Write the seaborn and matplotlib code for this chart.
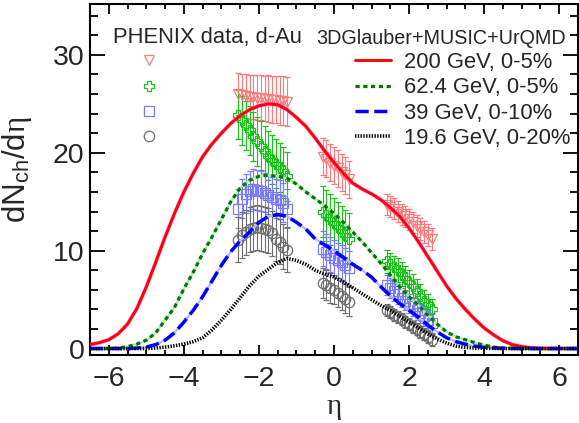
import numpy as np
import pandas as pd
import seaborn as sns
import matplotlib.pyplot as plt
from matplotlib.lines import Line2D
from matplotlib.ticker import MultipleLocator

# ---------------- data ----------------
eta_model = [-6.5, -6.25, -6.0, -5.75, -5.5, -5.25, -5.0, -4.75, -4.5, -4.25, -4.0, -3.75,
             -3.5, -3.25, -3.0, -2.75, -2.5, -2.25, -2.0, -1.75, -1.5, -1.25, -1.0, -0.75,
             -0.5, -0.25, 0.0, 0.25, 0.5, 0.75, 1.0, 1.25, 1.5, 1.75, 2.0, 2.25, 2.5, 2.75,
             3.0, 3.25, 3.5, 3.75, 4.0, 4.25, 4.5, 4.75, 5.0, 5.25, 5.5, 5.75, 6.0, 6.25, 6.5]
model_200 = [0.4, 0.6, 0.9, 1.5, 2.5, 4.1, 6.3, 8.8, 11.4, 13.8, 16.0, 17.9,
             19.6, 20.9, 22.0, 23.0, 23.8, 24.4, 24.8, 25.0, 24.9, 24.4, 23.6, 22.7,
             21.5, 20.2, 19.0, 17.9, 16.9, 16.3, 15.8, 15.2, 14.4, 13.5, 12.3, 10.9, 9.4, 7.9,
             6.4, 5.1, 4.0, 3.0, 2.1, 1.4, 0.8, 0.4, 0.2, 0.08, 0.03, 0.01, 0.0, 0.0, 0.0]
model_62 = [0.0, 0.0, 0.0, 0.05, 0.2, 0.45, 0.85, 1.6, 2.9, 4.2, 6.1, 7.8,
            9.7, 11.4, 13.2, 15.0, 16.4, 17.2, 17.6, 17.7, 17.6, 17.4, 16.8, 16.0,
            15.3, 14.6, 13.8, 12.9, 11.9, 10.9, 9.8, 8.7, 7.5, 6.3, 5.3, 4.4, 3.4, 2.5,
            1.7, 1.2, 0.9, 0.6, 0.35, 0.15, 0.05, 0.02, 0.0, 0.0, 0.0, 0.0, 0.0, 0.0, 0.0]
model_39 = [0.0, 0.0, 0.0, 0.0, 0.0, 0.05, 0.15, 0.4, 0.85, 1.6, 2.7, 3.9,
            5.3, 6.9, 8.5, 9.9, 11.0, 11.9, 12.9, 13.5, 13.7, 13.5, 12.9, 12.2,
            11.2, 10.6, 10.0, 9.3, 8.6, 8.0, 7.3, 6.3, 5.4, 4.6, 3.9, 3.2, 2.4, 1.7,
            1.1, 0.7, 0.45, 0.25, 0.12, 0.06, 0.03, 0.01, 0.0, 0.0, 0.0, 0.0, 0.0, 0.0, 0.0]
model_19 = [0.0, 0.0, 0.0, 0.0, 0.0, 0.0, 0.0, 0.05, 0.15, 0.28, 0.45, 0.7,
            1.1, 1.9, 2.9, 4.0, 5.2, 6.4, 7.4, 8.1, 8.8, 9.2, 9.0, 8.6,
            8.0, 7.6, 7.3, 6.8, 6.2, 5.6, 5.0, 4.4, 3.9, 3.3, 2.7, 2.1, 1.5, 1.0,
            0.55, 0.25, 0.12, 0.06, 0.03, 0.01, 0.0, 0.0, 0.0, 0.0, 0.0, 0.0, 0.0, 0.0, 0.0]

eta_data = [-2.55, -2.45, -2.35, -2.25, -2.15, -2.05, -1.95, -1.85, -1.75, -1.65, -1.55, -1.45, -1.35, -1.25,
            -0.3, -0.2, -0.1, 0.0, 0.1, 0.2, 0.3, 0.4,
            1.4, 1.5, 1.6, 1.7, 1.8, 1.9, 2.0, 2.1, 2.2, 2.3, 2.4, 2.5, 2.6]
data_200 = [26.0, 25.9, 25.8, 25.7, 25.7, 25.6, 25.6, 25.5, 25.5, 25.4, 25.4, 25.3, 25.3, 25.2,
            19.6, 19.4, 19.0, 18.7, 18.4, 18.0, 17.7, 17.3,
            14.7, 14.5, 14.3, 14.0, 13.7, 13.5, 13.2, 12.9, 12.5, 12.2, 11.9, 11.6, 11.2]
err_200 = [2.1, 2.1, 2.2, 2.2, 2.2, 2.3, 2.3, 2.3, 2.4, 2.4, 2.4, 2.5, 2.5, 2.5,
           1.9, 1.9, 1.9, 1.9, 1.9, 1.9, 1.9, 1.9,
           1.1, 1.1, 1.1, 1.1, 1.1, 1.1, 1.1, 1.1, 1.1, 1.1, 1.1, 1.1, 1.1]
data_62 = [23.9, 23.3, 22.8, 22.3, 21.7, 21.2, 20.7, 20.2, 19.7, 19.3, 18.9, 18.5, 18.1, 17.6,
           14.0, 13.6, 13.2, 12.8, 12.4, 12.0, 11.6, 11.2,
           8.9, 8.6, 8.3, 8.0, 7.6, 7.2, 6.8, 6.4, 5.9, 5.4, 4.9, 4.5, 4.0]
err_62 = [2.5, 2.5, 2.5, 2.5, 2.5, 2.5, 2.5, 2.5, 2.5, 2.5, 2.5, 2.5, 2.5, 2.5,
          2.6, 2.6, 2.6, 2.6, 2.6, 2.6, 2.6, 2.6,
          1.2, 1.2, 1.2, 1.2, 1.2, 1.2, 1.2, 1.2, 1.2, 1.2, 1.1, 1.1, 1.1]
data_39 = [14.3, 15.3, 15.8, 16.1, 16.3, 16.2, 16.1, 15.9, 15.7, 15.5, 15.3, 15.2, 14.9, 14.3,
           10.2, 9.9, 9.6, 9.3, 9.0, 8.8, 8.5, 8.2,
           6.5, 6.2, 5.9, 5.6, 5.2, 4.9, 4.6, 4.3, 3.9, 3.6, 3.3, 2.9, 2.6]
err_39 = [2.0, 2.0, 2.0, 2.0, 2.0, 2.0, 2.0, 2.0, 2.0, 2.0, 2.0, 2.0, 2.0, 2.0,
          1.8, 1.8, 1.8, 1.8, 1.8, 1.8, 1.8, 1.8,
          1.0, 1.0, 1.0, 1.0, 1.0, 1.0, 1.0, 1.0, 1.0, 1.0, 1.0, 1.0, 1.0]
data_19 = [11.1, 11.6, 11.9, 12.2, 12.3, 12.4, 12.3, 12.2, 12.1, 11.8, 11.2, 10.9, 10.4, 10.1,
           6.7, 6.5, 6.2, 6.0, 5.7, 5.4, 5.1, 4.8,
           3.9, 3.7, 3.4, 3.2, 3.0, 2.7, 2.5, 2.2, 2.0, 1.7, 1.5, 1.2, 0.9]
err_19 = [2.3, 2.3, 2.3, 2.3, 2.3, 2.3, 2.3, 2.3, 2.3, 2.3, 2.3, 2.3, 2.3, 2.3,
          1.5, 1.5, 1.5, 1.5, 1.5, 1.5, 1.5, 1.5,
          0.6, 0.6, 0.6, 0.6, 0.6, 0.6, 0.6, 0.6, 0.6, 0.6, 0.6, 0.6, 0.6]

model_labels = ["200 GeV, 0-5%", "62.4 GeV, 0-5%", "39 GeV, 0-10%", "19.6 GeV, 0-20%"]
xticks = [-6, -4, -2, 0, 2, 4, 6]
yticks = [0, 10, 20, 30]

# ---------------- style ----------------
sns.set_style("ticks")
plt.rcParams['font.family'] = ['Liberation Sans', 'DejaVu Sans']
plt.rcParams['mathtext.fontset'] = 'custom'
plt.rcParams['mathtext.rm'] = 'Liberation Sans'
plt.rcParams['mathtext.it'] = 'Liberation Serif'
plt.rcParams['lines.scale_dashes'] = False
plt.rcParams['axes.unicode_minus'] = True

W, H = 579, 423
fig = plt.figure(figsize=(W / 100, H / 100), dpi=100)
fig.patch.set_facecolor('white')
ax = fig.add_axes([90 / W, 1 - 355 / H, (578 - 90) / W, (355 - 4) / H])

# ---------------- data points ----------------
pt_styles = [
    (data_200, err_200, 'v', '#ff7a7a'),
    (data_62, err_62, 'P', '#19c119'),
    (data_39, err_39, 's', '#7a7aff'),
    (data_19, err_19, 'o', '#6e6e6e'),
]
for vals, errs, mk, col in pt_styles:
    ax.errorbar(eta_data, vals, yerr=errs, fmt=mk, mfc='none', mec=col, ecolor=col,
                ms=7.5, mew=0.9, elinewidth=0.8, capsize=2.2, capthick=0.8, zorder=3)

# ---------------- model curves ----------------
df = pd.DataFrame({'eta': eta_model, 'm200': model_200, 'm62': model_62,
                   'm39': model_39, 'm19': model_19})
# halos
sns.lineplot(data=df, x='eta', y='m200', ax=ax, color='#ff5cff', lw=3.0, alpha=0.55, zorder=4)
sns.lineplot(data=df, x='eta', y='m62', ax=ax, color='#aeeaae', lw=1.6, zorder=4)
sns.lineplot(data=df, x='eta', y='m39', ax=ax, color='#b8b8ff', lw=1.6, zorder=4)

dash62 = (3.0, 2.6)
dash39 = (9.5, 4.0)
dash19 = (1.0, 1.0)
l1 = sns.lineplot(data=df, x='eta', y='m200', ax=ax, color='#ff0000', lw=2.1, zorder=5).lines[-1]
l2 = sns.lineplot(data=df, x='eta', y='m62', ax=ax, color='#007700', lw=2.3, zorder=5,
                  linestyle=(0, dash62)).lines[-1]
l3 = sns.lineplot(data=df, x='eta', y='m39', ax=ax, color='#0000ff', lw=2.5, zorder=5,
                  linestyle=(0, dash39)).lines[-1]
l4 = sns.lineplot(data=df, x='eta', y='m19', ax=ax, color='#000000', lw=2.6, zorder=5,
                  linestyle=(0, dash19)).lines[-1]

# ---------------- axes ----------------
ax.set_xlim(-6.5, 6.5)
ax.set_ylim(-0.66, 35.2)
ax.set_xticks(xticks)
ax.set_yticks(yticks)
ax.xaxis.set_minor_locator(MultipleLocator(0.5))
ax.yaxis.set_minor_locator(MultipleLocator(2))
ax.tick_params(which='both', direction='in', top=True, right=True, width=1.3, color='black')
ax.tick_params(axis='x', which='major', length=7.5, labelsize=20.5, pad=8)
ax.tick_params(axis='x', which='minor', length=3.8)
ax.tick_params(axis='y', which='major', length=10.5, labelsize=20.5, pad=4)
ax.tick_params(axis='y', which='minor', length=5.5)
for s in ax.spines.values():
    s.set_linewidth(1.5)
    s.set_color('black')

ax.set_xlabel('η', fontsize=21, family=['Liberation Serif'], labelpad=1)
ax.set_ylabel(r'dN$_{\rm ch}$/d$\eta$', fontsize=22.5)
ax.yaxis.set_label_coords(-0.115, 0.527)

# ---------------- legends ----------------
fs = 15.8
fig.text(113 / W, 1 - 43.5 / H, 'PHENIX data, d-Au', fontsize=fs, ha='left', va='baseline')
fig.text(316 / W, 1 - 44.5 / H, '3DGlauber+MUSIC+UrQMD', fontsize=14.2, ha='left', va='baseline')

mk_handles = [Line2D([], [], ls='none', marker=mk, mfc='none', mec=col, ms=7.5, mew=0.9)
              for _, _, mk, col in pt_styles]
leg1 = ax.legend(handles=mk_handles, labels=['', '', '', ''], loc='upper left',
                 bbox_to_anchor=(138 / W, 1 - 52 / H), bbox_transform=fig.transFigure,
                 frameon=False, fontsize=fs, handlelength=1.0, handletextpad=0.0,
                 borderpad=0, borderaxespad=0, labelspacing=0.2, numpoints=1)
ax.add_artist(leg1)

line_handles = [Line2D([], [], color=l1.get_color(), lw=l1.get_linewidth()),
                Line2D([], [], color=l2.get_color(), lw=l2.get_linewidth(), dashes=dash62),
                Line2D([], [], color=l3.get_color(), lw=l3.get_linewidth(), dashes=dash39),
                Line2D([], [], color=l4.get_color(), lw=l4.get_linewidth(), dashes=dash19)]
leg2 = ax.legend(handles=line_handles, labels=model_labels, loc='upper left',
                 bbox_to_anchor=(355 / W, 1 - 52 / H), bbox_transform=fig.transFigure,
                 frameon=False, fontsize=fs, handlelength=1.64, handletextpad=0.6,
                 borderpad=0, borderaxespad=0, labelspacing=0.2)

fig.savefig('out.png', dpi=100, facecolor='white')
